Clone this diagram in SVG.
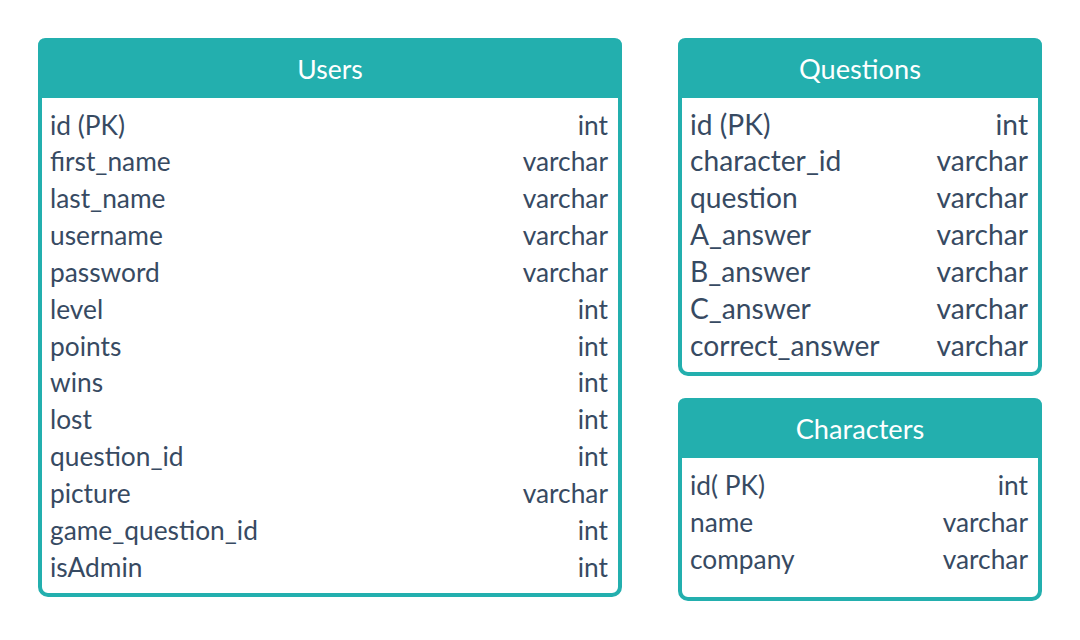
<svg xmlns="http://www.w3.org/2000/svg" width="1080" height="640" viewBox="0 0 1080 640">
<style>
.box{fill:#ffffff;stroke:#23afae;stroke-width:4}
.hdr{fill:#23afae}
.ht{font-family:Lato,"Open Sans",sans-serif;font-size:26.5px;fill:#ffffff;text-anchor:middle}
.hq{font-size:27.2px}
.t{font-family:Lato,"Open Sans",sans-serif;font-size:26.3px;fill:#374a62}
.q{font-size:28.2px}
.r{text-anchor:end}
</style>
<rect width="1080" height="640" fill="#ffffff"/>
<g id="users">
<rect class="box" x="40" y="40" width="580" height="555" rx="8"/>
<path class="hdr" d="M38 98 V46 Q38 38 46 38 H614 Q622 38 622 46 V98 Z"/>
<text class="ht" x="330" y="79">Users</text>
<text class="t" x="50" y="134.5">id (PK)</text><text class="t r" x="608" y="134.5">int</text>
<text class="t" x="50" y="171.3">first_name</text><text class="t r" x="608" y="171.3">varchar</text>
<text class="t" x="50" y="208.2">last_name</text><text class="t r" x="608" y="208.2">varchar</text>
<text class="t" x="50" y="245">username</text><text class="t r" x="608" y="245">varchar</text>
<text class="t" x="50" y="281.8">password</text><text class="t r" x="608" y="281.8">varchar</text>
<text class="t" x="50" y="318.7">level</text><text class="t r" x="608" y="318.7">int</text>
<text class="t" x="50" y="355.5">points</text><text class="t r" x="608" y="355.5">int</text>
<text class="t" x="50" y="392.3">wins</text><text class="t r" x="608" y="392.3">int</text>
<text class="t" x="50" y="429.1">lost</text><text class="t r" x="608" y="429.1">int</text>
<text class="t" x="50" y="466">question_id</text><text class="t r" x="608" y="466">int</text>
<text class="t" x="50" y="502.8">picture</text><text class="t r" x="608" y="502.8">varchar</text>
<text class="t" x="50" y="539.6">game_question_id</text><text class="t r" x="608" y="539.6">int</text>
<text class="t" x="50" y="576.5">isAdmin</text><text class="t r" x="608" y="576.5">int</text>
</g>
<g id="questions">
<rect class="box" x="680" y="40" width="360" height="334" rx="8"/>
<path class="hdr" d="M678 98 V46 Q678 38 686 38 H1034 Q1042 38 1042 46 V98 Z"/>
<text class="ht hq" x="860" y="79">Questions</text>
<text class="t q" x="690" y="134.5">id (PK)</text><text class="t q r" x="1028" y="134.5">int</text>
<text class="t q" x="690" y="171.4">character_id</text><text class="t q r" x="1028" y="171.4">varchar</text>
<text class="t q" x="690" y="208.3">question</text><text class="t q r" x="1028" y="208.3">varchar</text>
<text class="t q" x="690" y="245.2">A_answer</text><text class="t q r" x="1028" y="245.2">varchar</text>
<text class="t q" x="690" y="282.1">B_answer</text><text class="t q r" x="1028" y="282.1">varchar</text>
<text class="t q" x="690" y="319">C_answer</text><text class="t q r" x="1028" y="319">varchar</text>
<text class="t q" x="690" y="355.8">correct_answer</text><text class="t q r" x="1028" y="355.8">varchar</text>
</g>
<g id="characters">
<rect class="box" x="680" y="400" width="360" height="199" rx="8"/>
<path class="hdr" d="M678 458 V406 Q678 398 686 398 H1034 Q1042 398 1042 406 V458 Z"/>
<text class="ht hq" x="860" y="439">Characters</text>
<text class="t" x="690" y="495">id( PK)</text><text class="t r" x="1028" y="495">int</text>
<text class="t" x="690" y="532">name</text><text class="t r" x="1028" y="532">varchar</text>
<text class="t" x="690" y="568.5">company</text><text class="t r" x="1028" y="568.5">varchar</text>
</g>
<g id="connectors"></g>
</svg>
